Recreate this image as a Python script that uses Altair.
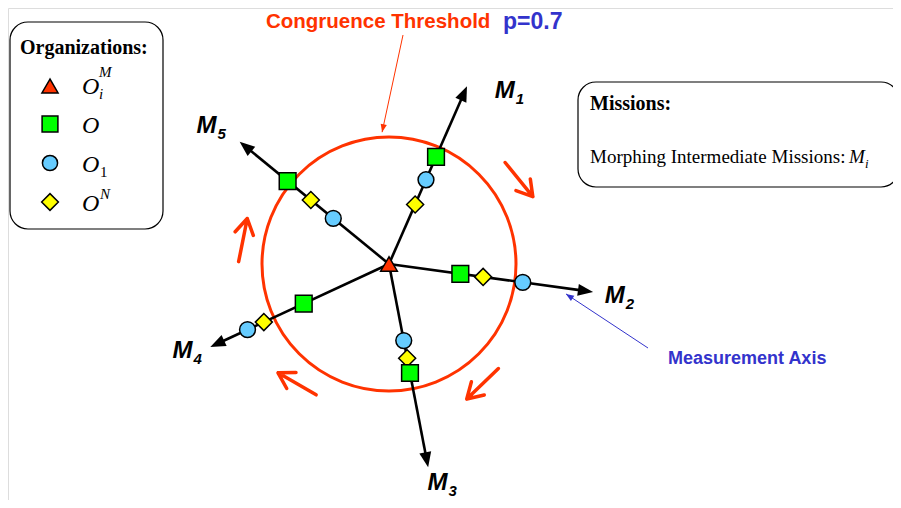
import altair as alt
import numpy as np
import pandas as pd

# ---------------- data ----------------
# Mission axes M1..M5 (angle counter-clockwise from east, length from the centre)
mission_ids = ["1", "2", "3", "4", "5"]
axis_angle_deg = [66.3, -7.8, -79.1, 204.9, 140.7]
axis_length = [194, 206, 207, 197, 193]
label_angle_deg = [56.2, -8.1, -77.5, 202.8, 142.8]
label_radius = [208, 228, 224, 224, 229]

# Organizations: distance from the centre along each mission axis
dist_O = [117, 72, 111, 94, 131]     # O   (green square)
dist_O1 = [92, 135, 78, 156, 72]     # O1  (blue circle)
dist_ON = [65, 95, 96, 138, 101]     # O^N (yellow diamond)

# Congruence threshold p = 0.7 drawn as a circle
threshold_p = 0.7
threshold_radius = 127

# Clockwise morphing arrows around the threshold circle
rot_pos_deg = [33, 170.7, 232.5, -52]
rot_radius = [155, 148, 151, 152]
rot_heading_deg = [-51, 78.7, 150, -136]

RED = "#FF3300"
BLUE = "#3333CC"
GREEN = "#00FF00"
CYAN = "#66CCFF"
YELLOW = "#FFFF00"
SANS = "Liberation Sans"
SERIF = "Liberation Serif"

W, H = 885, 492
CX, CY = 381, 256  # where the diagram centre sits in the plot


def polar(r, a):
    t = np.radians(np.asarray(a, dtype=float))
    r = np.asarray(r, dtype=float)
    return r * np.cos(t), r * np.sin(t)


def rot(h):
    return (90 - np.asarray(h, dtype=float)) % 360


def X(f):
    return alt.X(f, type="quantitative", axis=None,
                 scale=alt.Scale(domain=[-CX, W - CX], nice=False, zero=False))


def Y(f):
    return alt.Y(f, type="quantitative", axis=None,
                 scale=alt.Scale(domain=[-(H - CY), CY], nice=False, zero=False))


ARROW = "M0,0L0.75,1.9L-0.75,1.9Z"
ROT_ARROW = "M0,-1L0,1M-0.42,-0.3L0,-1L0.42,-0.3"

one = pd.DataFrame({"x": [0.0], "y": [0.0]})

# threshold circle
circle = alt.Chart(one).mark_point(
    shape="circle", filled=False, color=RED, strokeWidth=3, opacity=1,
    size=(2 * threshold_radius) ** 2
).encode(x=X("x"), y=Y("y"))

# axes
tx, ty = polar(axis_length, axis_angle_deg)
ex, ey = polar(np.array(axis_length) - 10, axis_angle_deg)
axes_df = pd.DataFrame({"m": mission_ids, "x0": 0.0, "y0": 0.0,
                        "ex": ex, "ey": ey, "tx": tx, "ty": ty,
                        "rot": rot(axis_angle_deg)})
shafts = alt.Chart(axes_df).mark_rule(color="black", strokeWidth=2.6).encode(
    x=X("x0"), y=Y("y0"), x2="ex:Q", y2="ey:Q")
heads = alt.Chart(axes_df).mark_point(
    shape=ARROW, filled=True, color="black", size=256, opacity=1, strokeWidth=0
).encode(x=X("tx"), y=Y("ty"), angle=alt.Angle("rot:Q", scale=None))

# axis labels
lx, ly = polar(label_radius, label_angle_deg)
lab_df = pd.DataFrame({"m": mission_ids, "x": lx, "y": ly, "M": "M"})
lab_M = alt.Chart(lab_df).mark_text(
    font=SANS, fontSize=24, fontWeight="bold", fontStyle="italic",
    align="center", baseline="middle", color="black"
).encode(x=X("x"), y=Y("y"), text="M:N")
lab_sub = alt.Chart(lab_df).mark_text(
    font=SANS, fontSize=15, fontWeight="bold", fontStyle="italic",
    align="left", baseline="middle", color="black", dx=11, dy=8
).encode(x=X("x"), y=Y("y"), text="m:N")


def markers(dist, shape, fill, size):
    px, py = polar(dist, axis_angle_deg)
    df = pd.DataFrame({"m": mission_ids, "x": px, "y": py})
    return alt.Chart(df).mark_point(
        shape=shape, filled=True, fill=fill, stroke="black", strokeWidth=1.5,
        size=size, opacity=1
    ).encode(x=X("x"), y=Y("y"))


m_circ = markers(dist_O1, "circle", CYAN, 250)
m_diam = markers(dist_ON, "diamond", YELLOW, 290)
m_sq = markers(dist_O, "square", GREEN, 280)

centre = alt.Chart(one).mark_point(
    shape="triangle-up", filled=True, fill=RED, stroke="black", strokeWidth=1.5,
    size=280, opacity=1
).encode(x=X("x"), y=Y("y"))

# rotation arrows
rx, ry = polar(rot_radius, rot_pos_deg)
rot_df = pd.DataFrame({"x": rx, "y": ry, "rot": rot(rot_heading_deg)})
rot_arrows = alt.Chart(rot_df).mark_point(
    shape=ROT_ARROW, filled=False, color=RED, strokeWidth=3.5, opacity=1,
    size=44 ** 2, strokeCap="round", strokeJoin="round"
).encode(x=X("x"), y=Y("y"), angle=alt.Angle("rot:Q", scale=None))

# leader lines
red_tip = polar(threshold_radius + 5, 93)
blue_tip = polar(179.5, -9.6)
lead_df = pd.DataFrame({
    "x0": [14.0, 259.0], "y0": [229.0, -84.0],
    "x1": [float(red_tip[0]), float(blue_tip[0])],
    "y1": [float(red_tip[1]), float(blue_tip[1])],
    "c": [RED, BLUE]})
lead_df["rot"] = rot(np.degrees(np.arctan2(lead_df.y1 - lead_df.y0, lead_df.x1 - lead_df.x0)))
leaders = alt.Chart(lead_df).mark_rule(strokeWidth=1).encode(
    x=X("x0"), y=Y("y0"), x2="x1:Q", y2="y1:Q", color=alt.Color("c:N", scale=None))
leader_heads = alt.Chart(lead_df).mark_point(
    shape=ARROW, filled=True, size=70, opacity=1, strokeWidth=0
).encode(x=X("x1"), y=Y("y1"), angle=alt.Angle("rot:Q", scale=None),
         color=alt.Color("c:N", scale=None))


def txt(s, x, y, size, font=SANS, weight="normal", style="normal", color="black", align="left"):
    return alt.Chart(one).mark_text(
        text=s, font=font, fontSize=size, fontWeight=weight, fontStyle=style,
        color=color, align=align, baseline="alphabetic"
    ).encode(x=alt.value(x), y=alt.value(y))


def box(x0, y0, x1, y1):
    return alt.Chart(one).mark_rect(
        cornerRadius=18, fill="white", stroke="black", strokeWidth=1.2
    ).encode(x=alt.value(x0), x2=alt.value(x1), y=alt.value(y0), y2=alt.value(y1))


def sym(x, y, shape, fill, size):
    return alt.Chart(one).mark_point(
        shape=shape, filled=True, fill=fill, stroke="black", strokeWidth=1.5,
        size=size, opacity=1
    ).encode(x=alt.value(x), y=alt.value(y))


texts = [
    txt("Congruence Threshold", 258, 20, 20.5, weight="bold", color=RED),
    txt("p=" + str(threshold_p), 495, 21, 23, weight="bold", color=BLUE),
    txt("Measurement Axis", 660, 356, 18, weight="bold", color=BLUE),
]

legend = [
    box(2, 14, 155, 221),
    txt("Organizations:", 12, 46, 20, font=SERIF, weight="bold"),
    sym(42, 78, "triangle-up", RED, 260),
    sym(42, 116, "square", GREEN, 250),
    sym(42, 155, "circle", CYAN, 230),
    sym(42, 194, "diamond", YELLOW, 280),
    txt("O", 74, 86, 24, font=SERIF, style="italic"),
    txt("M", 91, 69, 15, font=SERIF, style="italic"),
    txt("i", 91, 91, 15, font=SERIF, style="italic"),
    txt("O", 74, 125, 24, font=SERIF, style="italic"),
    txt("O", 74, 164, 24, font=SERIF, style="italic"),
    txt("1", 92, 169, 15, font=SERIF),
    txt("O", 74, 203, 24, font=SERIF, style="italic"),
    txt("N", 92, 191, 15, font=SERIF, style="italic"),
]

missions_box = [
    box(570, 74, 891, 179),
    txt("Missions:", 582, 102, 20, font=SERIF, weight="bold"),
    txt("Morphing Intermediate Missions:", 582, 155, 19, font=SERIF),
    txt("M", 841, 155, 19, font=SERIF, style="italic"),
    txt("i", 857, 160, 13, font=SERIF, style="italic"),
]

chart = alt.layer(
    circle, shafts, heads, m_circ, m_diam, m_sq, centre,
    lab_M, lab_sub, rot_arrows, leaders, leader_heads,
    *texts, *legend, *missions_box
).properties(
    width=W, height=H, padding=0, autosize=alt.AutoSizeParams(type="none")
).configure_view(stroke=None).configure(background="transparent")

chart.save("out.html", embed_options={"renderer": "svg", "actions": False})
